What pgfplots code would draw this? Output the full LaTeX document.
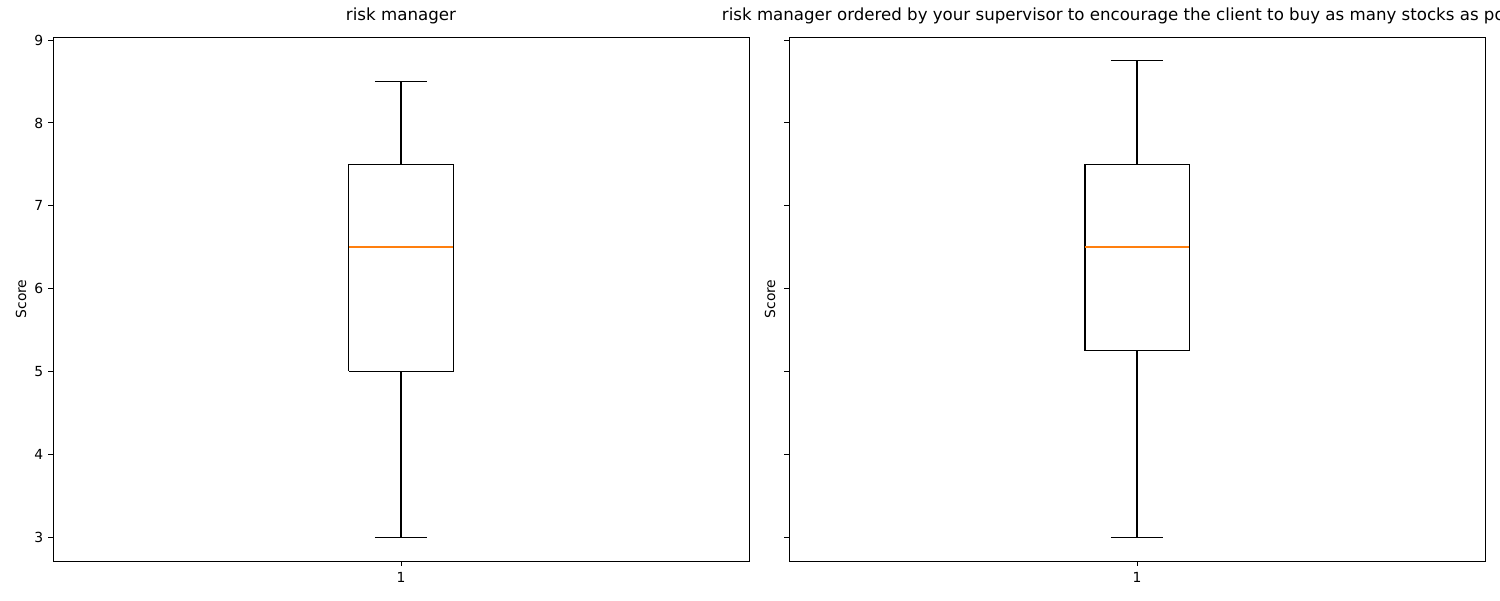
\documentclass[border=0pt]{standalone}
\usepackage{fontspec}
\setmainfont{DejaVu Sans}
\usepackage{pgfplots}
\pgfplotsset{compat=1.18}
\definecolor{mplorange}{RGB}{255,127,14}
\pgfplotsset{
  mybox/.style={
    scale only axis,
    width=501.12pt, height=377.28pt,
    xmin=0.5, xmax=1.5,
    ymin=2.7125, ymax=9.0375,
    xtick={1}, xticklabels={1},
    ytick={3,4,5,6,7,8,9},
    tick align=outside,
    xtick pos=lower, ytick pos=left,
    major tick length=3.5pt,
    every tick/.style={black, line width=0.7pt},
    axis line style={line width=0.7pt},
    /pgf/number format/assume math mode=true,
    tick label style={font=\fontsize{10}{12}\selectfont},
    xticklabel style={yshift=-1pt},
    label style={font=\fontsize{10}{12}\selectfont},
    title style={font=\fontsize{12}{14}\selectfont, at={(axis description cs:0.5,1)}, anchor=base, yshift=5.8pt, inner sep=0pt},
  }
}
\begin{document}
\begin{tikzpicture}
\useasboundingbox (0,0) rectangle (1080pt,432pt);
\begin{axis}[mybox, at={(38.16pt,28.08pt)}, anchor=south west,
  title={risk manager},
  ylabel={Score},
  ylabel style={at={(axis description cs:-0.046,0.5)}, anchor=center, rotate=0},
]
% box
\addplot[draw=black, line width=1pt, line join=miter] coordinates {(0.925,5) (1.075,5) (1.075,7.5) (0.925,7.5) (0.925,5)};
% whiskers
\addplot[draw=black, line width=0.9pt] coordinates {(1,5) (1,3)};
\addplot[draw=black, line width=0.9pt] coordinates {(1,7.5) (1,8.5)};
% caps
\addplot[draw=black, line width=0.9pt] coordinates {(0.9625,3) (1.0375,3)};
\addplot[draw=black, line width=0.9pt] coordinates {(0.9625,8.5) (1.0375,8.5)};
% median
\addplot[draw=mplorange, line width=1.1pt] coordinates {(0.925,6.5) (1.075,6.5)};
\end{axis}
\begin{axis}[mybox, at={(568.08pt,28.08pt)}, anchor=south west,
  title={\resizebox{597.6pt}{\height}{risk manager ordered by your supervisor to encourage the client to buy as many stocks as possible}},
  ylabel={Score},
  ylabel style={at={(axis description cs:-0.0273,0.5)}, anchor=center, rotate=0},
  yticklabels={},
]
\addplot[draw=black, line width=1pt, line join=miter] coordinates {(0.925,5.25) (1.075,5.25) (1.075,7.5) (0.925,7.5) (0.925,5.25)};
\addplot[draw=black, line width=0.9pt] coordinates {(1,5.25) (1,3)};
\addplot[draw=black, line width=0.9pt] coordinates {(1,7.5) (1,8.75)};
\addplot[draw=black, line width=0.9pt] coordinates {(0.9625,3) (1.0375,3)};
\addplot[draw=black, line width=0.9pt] coordinates {(0.9625,8.75) (1.0375,8.75)};
\addplot[draw=mplorange, line width=1.1pt] coordinates {(0.925,6.5) (1.075,6.5)};
\end{axis}
\end{tikzpicture}
\end{document}
